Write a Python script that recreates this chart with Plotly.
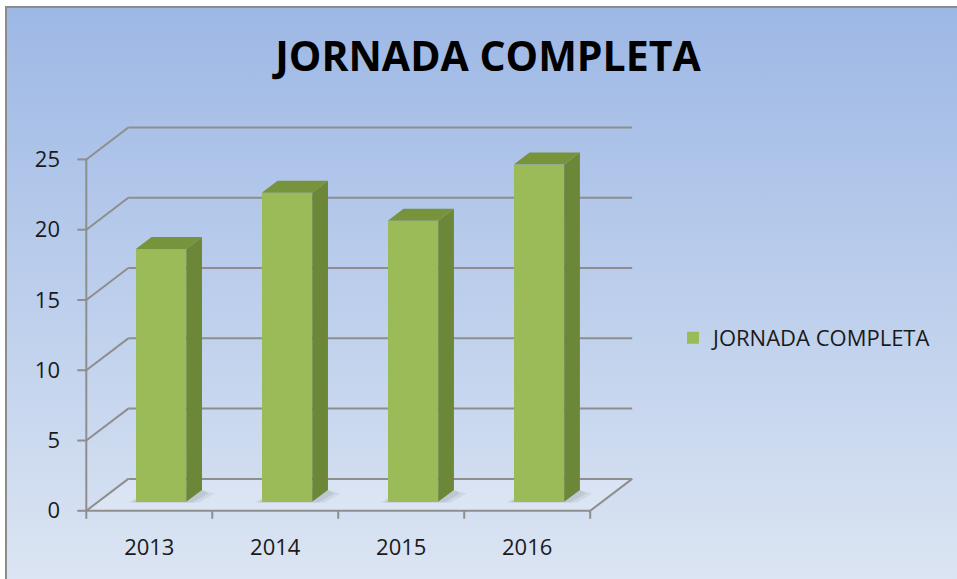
import base64
import plotly.graph_objects as go

# ---------------- data ----------------
years = ["2013", "2014", "2015", "2016"]
values = [18, 22, 20, 24]
y_ticks = [0, 5, 10, 15, 20, 25]
series_name = "JORNADA COMPLETA"
chart_title = "JORNADA COMPLETA"

# ---------------- pseudo-3D geometry (data units) ----------------
DX = 1 / 3        # depth offset in category units
DY = 2.27         # depth offset in value units
FRONT = 0.28      # bar front face depth fraction
BACK = 0.655      # bar back face depth fraction
BAR_W = 0.4

n = len(years)
X_MIN, X_MAX = -0.05, n + DX + 0.07
Y_MIN, Y_MAX = -0.3, y_ticks[-1] + DY + 0.18

L, R, T, B = 80, 316, 125, 64
W, H = 957, 579
plot_w = W - L - R
plot_h = H - T - B

def px_x(v):  # data x -> paper
    return (v - X_MIN) / (X_MAX - X_MIN)

def px_y(v):  # data y -> paper
    return (v - Y_MIN) / (Y_MAX - Y_MIN)

GRID = "#8E8E8E"
FRONT_C = "#9BBB59"
SIDE_C = "#6B8737"
TOP_C = "#77933C"

fig = go.Figure()

# front faces of the bars
base = FRONT * DY
xs_front = [i + 0.5 + FRONT * DX for i in range(n)]
fig.add_trace(go.Bar(
    x=xs_front, y=values, base=[base] * n, width=BAR_W,
    marker=dict(color=FRONT_C, line=dict(width=0)),
    name=series_name, showlegend=True, hoverinfo="skip",
))

# side & top faces
d = BACK - FRONT
sx, sy, tx, ty = [], [], [], []
for xc, v in zip(xs_front, values):
    x0, x1 = xc - BAR_W / 2, xc + BAR_W / 2
    top = base + v
    sx += [x1, x1 + d * DX, x1 + d * DX, x1, x1, None]
    sy += [base, base + d * DY, top + d * DY, top, base, None]
    tx += [x0, x1, x1 + d * DX, x0 + d * DX, x0, None]
    ty += [top, top, top + d * DY, top + d * DY, top, None]
fig.add_trace(go.Scatter(x=sx, y=sy, fill="toself", fillcolor=SIDE_C, mode="lines",
                         line=dict(width=0, color=SIDE_C), showlegend=False, hoverinfo="skip"))
fig.add_trace(go.Scatter(x=tx, y=ty, fill="toself", fillcolor=TOP_C, mode="lines",
                         line=dict(width=0, color=TOP_C), showlegend=False, hoverinfo="skip"))

shapes = []
# floor
shapes.append(dict(type="path", xref="x", yref="y", layer="below",
                   path=f"M 0 0 L {n} 0 L {n + DX} {DY} L {DX} {DY} Z",
                   fillcolor="rgba(255,255,255,0.2)", line=dict(width=0)))
# wall gridlines
for v in y_ticks:
    shapes.append(dict(type="line", xref="x", yref="y", layer="below",
                       x0=0, y0=v, x1=DX, y1=v + DY, line=dict(color=GRID, width=2)))
    shapes.append(dict(type="line", xref="x", yref="y", layer="below",
                       x0=DX, y0=v + DY, x1=n + DX, y1=v + DY, line=dict(color=GRID, width=2)))
# front axes and floor edge
shapes.append(dict(type="line", xref="x", yref="y", layer="below",
                   x0=0, y0=0, x1=0, y1=y_ticks[-1], line=dict(color=GRID, width=2)))
shapes.append(dict(type="line", xref="x", yref="y", layer="below",
                   x0=0, y0=0, x1=n, y1=0, line=dict(color=GRID, width=2)))
shapes.append(dict(type="line", xref="x", yref="y", layer="below",
                   x0=n, y0=0, x1=n + DX, y1=DY, line=dict(color=GRID, width=2)))
# soft bar shadows on the floor
for xc in xs_front:
    x0, x1 = xc - BAR_W / 2, xc + BAR_W / 2
    for k, a in ((0.10, 0.08), (0.05, 0.10)):
        shapes.append(dict(type="path", xref="x", yref="y", layer="below",
                           path=(f"M {x0 - k * 0.6} {base - 0.05} L {x1 + k} {base - 0.05} "
                                 f"L {x1 + d * DX + k} {base + d * DY * 0.7} "
                                 f"L {x1 + d * DX} {base + d * DY} L {x0 + d * DX} {base + d * DY} Z"),
                           fillcolor=f"rgba(60,60,60,{a})", line=dict(width=0)))
# y ticks (left of front axis)
for v in y_ticks:
    shapes.append(dict(type="line", xref="paper", yref="y", xsizemode="pixel",
                       xanchor=px_x(0), x0=-9, x1=0, y0=v, y1=v,
                       line=dict(color=GRID, width=2)))
# x ticks (category boundaries)
for i in range(n + 1):
    shapes.append(dict(type="line", xref="x", yref="paper", ysizemode="pixel",
                       yanchor=px_y(0), y0=-8, y1=0, x0=i, x1=i,
                       line=dict(color=GRID, width=2)))

# background gradient with border
svg = ('<svg xmlns="http://www.w3.org/2000/svg" width="957" height="579" viewBox="0 0 957 579" '
       'preserveAspectRatio="none"><defs><linearGradient id="g" x1="0" y1="0" x2="0" y2="1">'
       '<stop offset="0" stop-color="#9DB8E5"/><stop offset="1" stop-color="#DDE6F3"/>'
       '</linearGradient></defs><rect width="957" height="579" fill="#ffffff"/>'
       '<rect x="6" y="7" width="960" height="590" fill="url(#g)" stroke="#8C8C8C" stroke-width="2"/></svg>')
img_src = "data:image/svg+xml;base64," + base64.b64encode(svg.encode()).decode()

fig.update_layout(
    width=W, height=H,
    margin=dict(l=L, r=R, t=T, b=B),
    paper_bgcolor="white",
    plot_bgcolor="rgba(0,0,0,0)",
    images=[dict(source=img_src, xref="paper", yref="paper",
                 x=-L / plot_w, y=1 + T / plot_h, sizex=W / plot_w, sizey=H / plot_h,
                 xanchor="left", yanchor="top", sizing="stretch", layer="below")],
    shapes=shapes,
    title=dict(text=chart_title, xref="container", yref="container", x=488 / W, y=1 - 57 / H,
               xanchor="center", yanchor="middle",
               font=dict(family="Open Sans", size=41, color="#000000", weight="bold")),
    xaxis=dict(range=[X_MIN, X_MAX], tickvals=[i + 0.5 for i in range(n)], ticktext=years,
               ticks="", showgrid=False, zeroline=False, showline=False,
               ticklabelstandoff=17,
               tickfont=dict(family="Open Sans", size=22, color="#1A1A1A")),
    yaxis=dict(range=[Y_MIN, Y_MAX], tickvals=y_ticks, ticks="", showgrid=False,
               zeroline=False, showline=False, ticklabelstandoff=19,
               tickfont=dict(family="Open Sans", size=22, color="#1A1A1A")),
    legend=dict(x=(673 - L) / plot_w, y=(H - B - 338) / plot_h, xanchor="left", yanchor="middle",
                bgcolor="rgba(0,0,0,0)",
                font=dict(family="Open Sans", size=22, color="#1A1A1A")),
    bargap=0,
)

fig.write_html("out.html", config={"displayModeBar": False},
               post_script="document.body.style.margin='0px';")
